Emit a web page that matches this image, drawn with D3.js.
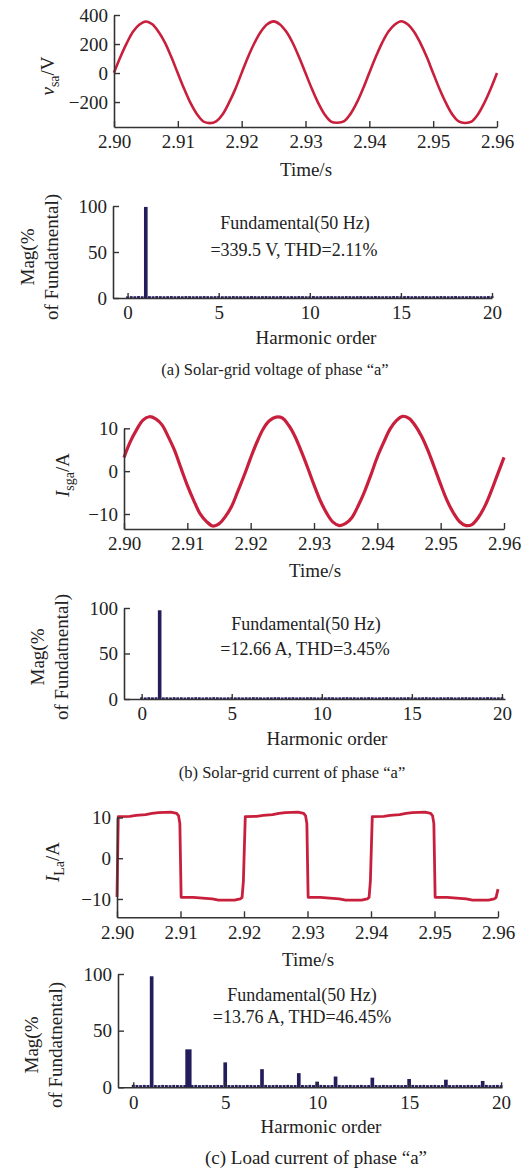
<!DOCTYPE html>
<html>
<head>
<meta charset="utf-8">
<script src="https://cdn.jsdelivr.net/npm/d3@7"></script>
<style>
  body { margin: 0; background: #fff; }
  svg text { font-family: "Liberation Serif", "Times New Roman", serif; fill: #222; }
</style>
</head>
<body>
<div id="chart"></div>
<script>
// ---- data ----

// waveforms sampled every 1 ms from 2.900 s to 2.960 s
const timeStart = 2.90, timeStep = 0.001;
const timeTicks = [2.90, 2.91, 2.92, 2.93, 2.94, 2.95, 2.96];

const vsa = [2,110,206,286,334,355,336,283,208,108,
  -2,-110,-208,-284,-334,-345,-333,-286,-206,-111,
  1,111,207,285,336,356,335,284,207,109,
  0,-109,-207,-286,-335,-343,-334,-285,-208,-109,
  2,110,208,286,335,357,336,285,206,110,
  -1,-110,-206,-285,-334,-344,-335,-286,-207,-110,
  0];

const isga = [3.2,6.9,9.7,11.9,12.7,12.2,10.8,8.0,4.8,0.7,
  -3.3,-6.8,-9.9,-11.7,-12.8,-12.3,-10.6,-8.2,-4.6,-0.9,
  3.1,6.8,9.9,11.8,12.6,12.4,10.7,8.1,4.6,0.8,
  -3.2,-6.9,-9.8,-11.9,-12.7,-12.2,-10.8,-8.0,-4.7,-0.8,
  3.3,6.7,9.8,11.8,12.8,12.3,10.6,8.1,4.8,0.9,
  -3.1,-6.8,-9.7,-11.8,-12.7,-12.4,-10.7,-8.1,-4.6,-0.7,
  3.2];

// load current, [time, value] at the corners of the square-ish wave
const iLa = [
  [2.9000,-9.5],[2.9002,10.2],[2.9020,10.3],[2.9030,10.5],[2.9045,10.7],[2.9055,11.0],[2.9065,11.2],[2.9085,11.3],
  [2.9094,11.0],[2.9097,10.4],[2.9099,8.5],[2.9101,-9.6],[2.9120,-9.6],[2.9135,-9.8],[2.9150,-10.0],[2.9160,-10.3],
  [2.9185,-10.3],[2.9194,-10.0],[2.9197,-9.6],[2.9199,-5.7],[2.9202,10.2],
  [2.9220,10.3],[2.9230,10.5],[2.9245,10.7],[2.9255,11.0],[2.9265,11.2],[2.9285,11.3],
  [2.9294,11.0],[2.9297,10.4],[2.9299,8.5],[2.9301,-9.6],[2.9320,-9.6],[2.9335,-9.8],[2.9350,-10.0],[2.9360,-10.3],
  [2.9385,-10.3],[2.9394,-10.0],[2.9397,-9.6],[2.9399,-5.7],[2.9402,10.2],
  [2.9420,10.3],[2.9430,10.5],[2.9445,10.7],[2.9455,11.0],[2.9465,11.2],[2.9485,11.3],
  [2.9494,11.0],[2.9497,10.4],[2.9499,8.5],[2.9501,-9.6],[2.9520,-9.6],[2.9535,-9.8],[2.9550,-10.0],[2.9560,-10.3],
  [2.9585,-10.3],[2.9594,-10.0],[2.9597,-9.6],[2.9600,-7.6]
];

// spectra: small bins every 0.2 harmonic order (0 .. 20), plus the main harmonics
const binStep = 0.2;
const harmTicks = [0, 5, 10, 15, 20];
const magTicks = [0, 50, 100];

const vsaBins = [1.8,2.0,1.9,2.1,1.9,0,2.0,1.9,2.1,2.0,1.9,2.0,2.1,1.9,2.0,1.9,2.1,2.0,1.9,2.0,
  1.9,2.1,2.0,1.9,2.0,2.1,1.9,2.0,1.9,2.1,2.0,1.9,2.0,1.9,2.1,2.0,1.9,2.0,2.1,1.9,
  2.0,1.9,2.1,2.0,1.9,2.0,1.9,2.1,2.0,1.9,2.0,2.1,1.9,2.0,1.9,2.1,2.0,1.9,2.0,1.9,
  2.1,2.0,1.9,2.0,2.1,1.9,2.0,1.9,2.1,2.0,1.9,2.0,1.9,2.1,2.0,1.9,2.0,2.1,1.9,2.0,
  1.9,2.1,2.0,1.9,2.0,1.9,2.1,2.0,1.9,2.0,2.1,1.9,2.0,1.9,2.1,2.0,1.9,2.0,1.9,2.1,2.0];
const isgaBins = [1.9,1.7,2.0,1.8,1.9,0,1.8,1.9,1.7,2.0,1.8,1.9,1.7,1.9,1.8,2.0,1.9,1.7,1.9,1.8,
  2.0,1.9,1.8,1.7,1.9,2.0,1.8,1.9,1.7,1.9,1.8,2.0,1.9,1.8,1.7,1.9,1.8,2.0,1.9,1.7,
  1.9,1.8,2.0,1.7,1.9,1.8,1.9,2.0,1.8,1.7,1.9,1.8,2.0,1.9,1.7,1.8,1.9,2.0,1.8,1.9,
  1.7,1.9,1.8,2.0,1.9,1.7,1.8,1.9,2.0,1.8,1.9,1.7,1.9,1.8,2.0,1.9,1.7,1.8,1.9,2.0,
  1.8,1.9,1.7,1.9,1.8,2.0,1.9,1.7,1.8,1.9,2.0,1.8,1.9,1.7,1.9,1.8,2.0,1.9,1.7,1.8,1.9];
const iLaBins = [2.2,2.0,1.9,2.1,2.0,0,2.0,1.9,2.1,2.0,1.9,2.1,2.0,1.9,2.0,0,2.0,2.1,1.9,2.0,
  2.1,1.9,2.0,2.1,1.9,0,2.0,1.9,2.1,2.0,1.9,2.1,2.0,1.9,2.0,0,2.1,1.9,2.0,2.1,
  1.9,2.0,2.1,1.9,2.0,0,2.0,1.9,2.1,2.0,2.8,2.1,2.0,1.9,2.0,0,2.1,1.9,2.0,2.1,
  1.9,2.0,2.1,1.9,2.0,0,2.0,1.9,2.1,2.0,1.9,2.1,2.0,1.9,2.0,0,2.1,1.9,2.0,2.1,
  1.9,2.0,2.1,1.9,2.0,0,2.0,1.9,2.1,2.0,1.9,2.1,2.0,1.9,2.0,0,2.1,1.9,2.0,2.1,1.9];

const vsaHarm = [{ order: 1, mag: 99 }];
const isgaHarm = [{ order: 1, mag: 97.5 }];
const iLaHarm = [
  { order: 1, mag: 98 }, { order: 3, mag: 33.5, wide: true }, { order: 5, mag: 22 }, { order: 7, mag: 16 },
  { order: 9, mag: 12.5 }, { order: 10, mag: 5 }, { order: 11, mag: 9.5 }, { order: 13, mag: 8.5 },
  { order: 15, mag: 7.3 }, { order: 17, mag: 6.7 }, { order: 19, mag: 5.6 }
];

const notes = [
  ["Fundamental(50 Hz)", "=339.5 V, THD=2.11%"],
  ["Fundamental(50 Hz)", "=12.66 A, THD=3.45%"],
  ["Fundamental(50 Hz)", "=13.76 A, THD=46.45%"]
];
const captions = [
  "(a) Solar-grid voltage of phase \u201ca\u201d",
  "(b) Solar-grid current of phase \u201ca\u201d",
  "(c) Load current of phase \u201ca\u201d"
];

// ---- drawing ----
const width = 528, height = 1174;
const red = "#c8203c", navy = "#241d5c", axisColor = "#333";

const svg = d3.select("#chart").append("svg")
    .attr("width", width)
    .attr("height", height)
    .attr("viewBox", [0, 0, width, height]);

function styleAxis(g) {
  g.select(".domain").attr("stroke", axisColor).attr("stroke-width", 1.6);
  g.selectAll(".tick line").attr("stroke", axisColor).attr("stroke-width", 1.4);
  g.selectAll(".tick text").attr("font-size", 19).attr("fill", "#222");
}

function rotLabel(x, y, text, size) {
  return svg.append("text")
      .attr("transform", `translate(${x},${y}) rotate(-90)`)
      .attr("text-anchor", "middle")
      .attr("dy", "0.35em")
      .attr("font-size", size)
      .text(text);
}

function waveform(opt) {
  const x = d3.scaleLinear([2.90, 2.96], [opt.left, opt.right]);
  const y = d3.scaleLinear(opt.yDomain, [opt.bottom, opt.top]);

  svg.append("path")
      .datum(opt.points)
      .attr("fill", "none")
      .attr("stroke", red)
      .attr("stroke-width", opt.lineWidth)
      .attr("stroke-linejoin", "round")
      .attr("d", d3.line().x(d => x(d[0])).y(d => y(d[1])).curve(opt.curve));

  svg.append("g")
      .attr("transform", `translate(0,${opt.bottom})`)
      .call(d3.axisBottom(x).tickValues(timeTicks).tickFormat(d3.format(".2f"))
        .tickSizeInner(-6).tickSizeOuter(0).tickPadding(8))
      .call(styleAxis);

  svg.append("g")
      .attr("transform", `translate(${opt.left},0)`)
      .call(d3.axisLeft(y).tickValues(opt.yTicks).tickFormat(d => d < 0 ? "\u2212" + (-d) : d)
        .tickSizeInner(-6).tickSizeOuter(0).tickPadding(6))
      .call(styleAxis);

  svg.append("text")
      .attr("x", opt.timeLabel[0]).attr("y", opt.timeLabel[1])
      .attr("text-anchor", "middle").attr("font-size", 19)
      .text("Time/s");

  const lab = rotLabel(opt.yLabelPos[0], opt.yLabelPos[1], "", 19);
  lab.append("tspan").attr("font-style", "italic").text(opt.yLabel[0]);
  lab.append("tspan").attr("font-size", 14).attr("dy", 5).text(opt.yLabel[1]);
  lab.append("tspan").attr("dy", -5).text(opt.yLabel[2]);
}

function spectrum(opt) {
  const x = d3.scaleLinear(opt.xDomain, [opt.left, opt.right]);
  const y = d3.scaleLinear([0, 100], [opt.bottom, opt.top]);
  const unit = x(1) - x(0);

  svg.append("g")
      .attr("fill", navy)
      .selectAll("rect")
      .data(opt.bins)
      .join("rect")
      .attr("x", (d, i) => x(i * binStep) - unit * 0.08)
      .attr("width", unit * 0.16)
      .attr("y", d => y(d))
      .attr("height", d => y(0) - y(d));

  svg.append("g")
      .attr("fill", navy)
      .selectAll("rect")
      .data(opt.harm)
      .join("rect")
      .attr("x", d => x(d.order) - unit * (d.wide ? 0.17 : 0.1))
      .attr("width", d => unit * (d.wide ? 0.34 : 0.2))
      .attr("y", d => y(d.mag))
      .attr("height", d => y(0) - y(d.mag));

  svg.append("g")
      .attr("transform", `translate(0,${opt.bottom})`)
      .call(d3.axisBottom(x).tickValues(harmTicks).tickSizeInner(-5).tickSizeOuter(0).tickPadding(8))
      .call(styleAxis);

  svg.append("g")
      .attr("transform", `translate(${opt.left},0)`)
      .call(d3.axisLeft(y).tickValues(magTicks).tickSizeInner(-6).tickSizeOuter(0).tickPadding(6))
      .call(styleAxis);

  svg.append("text")
      .attr("x", opt.xLabel[0]).attr("y", opt.xLabel[1])
      .attr("text-anchor", "middle").attr("font-size", 19)
      .text("Harmonic order");

  rotLabel(opt.yLab1[0], opt.yLab1[1], "Mag(%", 19);
  rotLabel(opt.yLab2[0], opt.yLab2[1], "of Fundatnental)", 19);

  opt.note.forEach((line, i) => {
    svg.append("text")
        .attr("x", opt.notePos[i][0]).attr("y", opt.notePos[i][1])
        .attr("text-anchor", "middle").attr("font-size", 18)
        .text(line);
  });

  svg.append("text")
      .attr("x", opt.captionPos[0]).attr("y", opt.captionPos[1])
      .attr("text-anchor", "middle").attr("font-size", opt.captionSize)
      .text(opt.caption);
}

const sampled = arr => arr.map((v, i) => [timeStart + i * timeStep, v]);

// (a)
waveform({
  points: sampled(vsa), curve: d3.curveCatmullRom, lineWidth: 2.6,
  left: 114, right: 497, top: 15, bottom: 127, yDomain: [-372, 400], yTicks: [-200, 0, 200, 400],
  timeLabel: [306, 176], yLabelPos: [47, 76], yLabel: ["v", "sa", "/V"]
});
spectrum({
  bins: vsaBins, harm: vsaHarm, xDomain: [-0.8, 20], left: 113, right: 492, top: 206, bottom: 298,
  xLabel: [316, 344], yLab1: [27, 257], yLab2: [51, 257],
  note: notes[0], notePos: [[295, 229], [294, 256]],
  caption: captions[0], captionPos: [275, 375], captionSize: 16.5
});

// (b)
waveform({
  points: sampled(isga), curve: d3.curveCatmullRom, lineWidth: 3.2,
  left: 124, right: 504, top: 428.3, bottom: 529, yDomain: [-13.5, 10], yTicks: [-10, 0, 10],
  timeLabel: [315, 577], yLabelPos: [62, 475], yLabel: ["I", "sga", "/A"]
});
spectrum({
  bins: isgaBins, harm: isgaHarm, xDomain: [-0.98, 20.17], left: 124, right: 505, top: 608, bottom: 699,
  xLabel: [327, 745], yLab1: [37, 657], yLab2: [61, 657],
  note: notes[1], notePos: [[306, 630], [305, 655]],
  caption: captions[1], captionPos: [292, 778], captionSize: 16.5
});

// (c)
waveform({
  points: iLa, curve: d3.curveLinear, lineWidth: 2.8,
  left: 117, right: 498, top: 817.5, bottom: 917.3, yDomain: [-14.5, 10], yTicks: [-10, 0, 10],
  timeLabel: [308, 966], yLabelPos: [52, 862], yLabel: ["I", "La", "/A"]
});
spectrum({
  bins: iLaBins, harm: iLaHarm, xDomain: [-0.83, 20.05], left: 118, right: 502, top: 974, bottom: 1087.3,
  xLabel: [321, 1133], yLab1: [31, 1045], yLab2: [55, 1045],
  note: notes[2], notePos: [[302, 1001], [302, 1023]],
  caption: captions[2], captionPos: [316, 1164], captionSize: 19
});
</script>
</body>
</html>
